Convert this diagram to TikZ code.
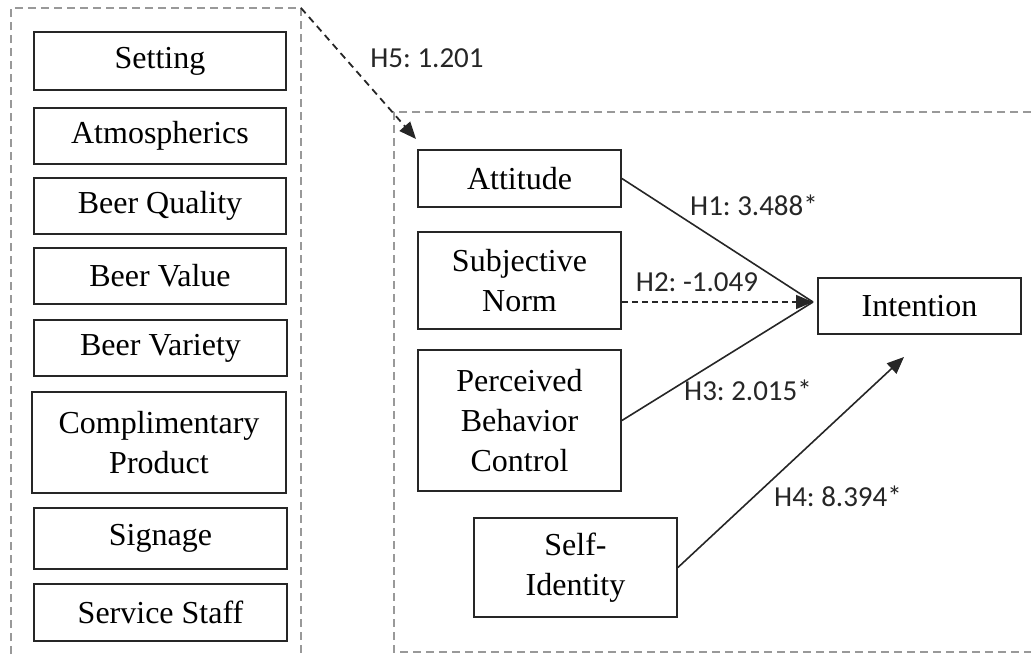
\documentclass[tikz,border=0pt]{standalone}
\usepackage{fontspec}
\setmainfont{Liberation Serif}
\newfontfamily\labfont{Carlito}
\usetikzlibrary{arrows.meta}
\begin{document}
\frenchspacing
\begin{tikzpicture}[x=1pt,y=-1pt,
  box/.style={draw=black!85,line width=1.8pt,inner sep=0pt,align=center,
    font=\fontsize{32}{40}\selectfont},
  lbox/.style={box,minimum width=252pt},
  rbox/.style={box,minimum width=203pt},
  lab/.style={font=\labfont\fontsize{29}{32}\selectfont\frenchspacing,inner sep=0pt,text=black!85},
  frame/.style={draw=black!40,line width=1.4pt,dash pattern=on 8pt off 5pt},
  link/.style={draw=black!85,line width=1.6pt},
  tip/.style={-{Triangle[length=17pt,width=14pt]}}
]
\useasboundingbox (0,0) rectangle (1031,654);
% containers
\draw[frame] (11,654) -- (11,8) -- (301,8) -- (301,654);
\draw[frame] (1031,112) -- (394,112) -- (394,652) -- (1031,652);
% left boxes
\node[lbox,minimum height=58pt] (setting) at (160,61) {Setting};
\node[lbox,minimum height=56pt] (atmo) at (160,136) {Atmospherics};
\node[lbox,minimum height=56pt] (bq) at (160,206) {Beer Quality};
\node[lbox,minimum height=56pt] (bv) at (160,276) {Beer Value};
\node[lbox,minimum height=56pt,minimum width=253pt] (bvar) at (160.5,348) {Beer Variety};
\node[lbox,minimum height=101pt,minimum width=254pt] (comp) at (159,442.5) {Complimentary\\Product};
\node[lbox,minimum height=61pt,minimum width=253pt] (sign) at (160.5,538.5) {Signage};
\node[lbox,minimum height=57pt,minimum width=253pt] (staff) at (160.5,612.5) {Service Staff};
% right boxes
\node[rbox,minimum height=57pt] (att) at (519.5,178.5) {Attitude};
\node[rbox,minimum height=97pt] (sn) at (519.5,280.5) {Subjective\\Norm};
\node[rbox,minimum height=141pt] (pbc) at (519.5,420.5) {Perceived\\Behavior\\Control};
\node[rbox,minimum height=99pt] (si) at (575.5,567.5) {Self-\\Identity};
\node[rbox,minimum height=56pt] (int) at (919.5,306) {Intention};
% coordinates
\coordinate (lc) at (301,8);
\coordinate (h5tip) at (416,139);
\coordinate (conv) at (813,302);
\coordinate (h4tip) at (904,357);
% connectors
\draw[link,dash pattern=on 7pt off 5pt,line width=1.8pt,tip] (lc) -- (h5tip);
\draw[link] (att.east) -- (conv);
\draw[link] (pbc.east) -- (conv);
\draw[link,dash pattern=on 6pt off 4pt,tip] (sn.east |- conv) -- (conv);
\draw[link,tip] (si.east) -- (h4tip);
% labels
\node[lab] (l5) at (427,58) {H5: 1.201};
\node[lab] (l1) at (754,205) {H1: 3.488*};
\node[lab] (l2) at (697,282) {H2: -1.049};
\node[lab] (l3) at (748,390) {H3: 2.015*};
\node[lab] (l4) at (838,496) {H4: 8.394*};
\end{tikzpicture}
\end{document}
